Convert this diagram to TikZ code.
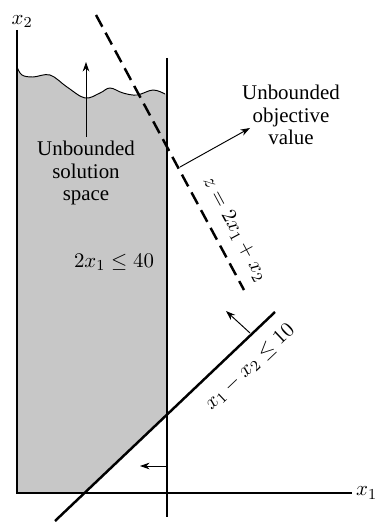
\documentclass[tikz,border=0pt]{standalone}
\usepackage{amsmath}
\usepackage{fontspec}
\setmainfont{Liberation Serif}
\usepackage{tikz}
\usetikzlibrary{arrows.meta}

\begin{document}
\begin{tikzpicture}[x=0.0185cm, y=-0.0185cm,
    font=\fontsize{11}{13}\selectfont,
    vincolo/.style={line width=1.3pt},
    freccia/.style={line width=0.5pt, -{Stealth[length=5pt, width=3.5pt]}},
    testo/.style={align=center, inner sep=0pt}]
    \useasboundingbox (0,0) rectangle (381,525);

    % punti principali
    \coordinate (O) at (17,493);
    \coordinate (Ytop) at (17,30);
    \coordinate (Xend) at (352,493);
    \coordinate (Vtop) at (167,58);
    \coordinate (Vbot) at (167,517);
    \coordinate (Dbot) at (55,521);
    \coordinate (Dtop) at (275,312);
    \coordinate (Ztop) at (96,15);
    \coordinate (Zbot) at (244,290);

    % regione ammissibile illimitata
    \fill[black!22] (O) -- (85,493) -- (167,416) -- (167,94)
        -- plot[smooth, tension=0.6] coordinates {(165,94) (153,90) (137,95) (123,93) (110,88) (100,93) (85,98) (67,87) (50,75) (33,77) (22,75) (17,67)} -- cycle;
    \draw[line width=0.5pt] plot[smooth, tension=0.6] coordinates {(17,67) (22,75) (33,77) (50,75) (67,87) (85,98) (100,93) (110,88) (123,93) (137,95) (153,90) (165,94)};

    % assi
    \draw[line width=0.8pt] (Ytop) -- (O) -- (Xend);
    \node[right, inner sep=2pt] (x1) at (Xend) {$x_1$};
    \node[above right, inner sep=1pt, xshift=-4pt] (x2) at (Ytop) {$x_2$};

    % vincoli
    \draw[vincolo] (Vtop) -- (Vbot);
    \draw[vincolo] (Dbot) -- (Dtop);

    % retta obiettivo
    \draw[vincolo, dash pattern=on 7pt off 3.6pt] (Ztop) -- (Zbot);

    % frecce
    \coordinate (A1) at (86,137);
    \coordinate (A2) at (86,62);
    \draw[freccia] (A1) -- (A2);
    \coordinate (B1) at (180,167);
    \coordinate (B2) at (250,128);
    \draw[freccia] (B1) -- (B2);
    \coordinate (C1) at (250,333);
    \coordinate (C2) at (226,311);
    \draw[freccia] (C1) -- (C2);
    \coordinate (D1) at (167,466);
    \coordinate (D2) at (140,466);
    \draw[freccia] (D1) -- (D2);

    % etichette
    \node[testo] (sol) at (86,173) {Unbounded\\[-1pt]solution\\[-1pt]space};
    \node[testo] (obj) at (291,115) {Unbounded\\[-1pt]objective\\[-1pt]value};
    \node (v1) at (114,262) {$2x_1 \le 40$};
    \node[rotate=-61.7] (zlab) at (235,229) {$z = 2x_1 + x_2$};
    \node[rotate=43.5] (v2) at (250,367) {$x_1 - x_2 \le 10$};
\end{tikzpicture}
\end{document}
